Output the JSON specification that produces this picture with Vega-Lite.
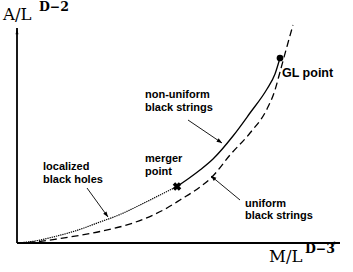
{
  "$schema": "https://vega.github.io/schema/vega-lite/v6.json",
  "width": 353,
  "height": 272,
  "autosize": "none",
  "padding": 0,
  "background": "white",
  "config": {"view": {"stroke": null}},
  "datasets": {
    "curves": [
      {"s": "loc", "x": 0, "y": 0}, {"s": "loc", "x": 18, "y": 2}, {"s": "loc", "x": 36, "y": 6}, {"s": "loc", "x": 58, "y": 12},
      {"s": "loc", "x": 83, "y": 21}, {"s": "loc", "x": 103, "y": 28.5}, {"s": "loc", "x": 123, "y": 38}, {"s": "loc", "x": 143, "y": 48},
      {"s": "loc", "x": 160, "y": 56.5},
      {"s": "nub", "x": 160, "y": 56.5}, {"s": "nub", "x": 173, "y": 65.5}, {"s": "nub", "x": 183, "y": 73}, {"s": "nub", "x": 196, "y": 84},
      {"s": "nub", "x": 216, "y": 107}, {"s": "nub", "x": 233, "y": 130}, {"s": "nub", "x": 250, "y": 154}, {"s": "nub", "x": 258, "y": 169},
      {"s": "nub", "x": 263, "y": 185},
      {"s": "uni", "x": 0, "y": 0}, {"s": "uni", "x": 18, "y": 1}, {"s": "uni", "x": 43, "y": 4.5}, {"s": "uni", "x": 83, "y": 11.5},
      {"s": "uni", "x": 116, "y": 20}, {"s": "uni", "x": 150, "y": 35}, {"s": "uni", "x": 163, "y": 43}, {"s": "uni", "x": 183, "y": 56},
      {"s": "uni", "x": 195, "y": 66}, {"s": "uni", "x": 213, "y": 88}, {"s": "uni", "x": 233, "y": 110}, {"s": "uni", "x": 250, "y": 134},
      {"s": "uni", "x": 258, "y": 153}, {"s": "uni", "x": 263, "y": 171}, {"s": "uni", "x": 269, "y": 193}, {"s": "uni", "x": 276, "y": 218}
    ],
    "axes": [
      {"x": 0, "y": 0, "x2": 323, "y2": 0},
      {"x": 0, "y": 0, "x2": 0, "y2": 215}
    ],
    "pointers": [
      {"x": 171, "y": 123, "x2": 205, "y2": 100},
      {"x": 70, "y": 55, "x2": 91, "y2": 26},
      {"x": 223, "y": 43, "x2": 194, "y2": 67}
    ],
    "markers": [
      {"kind": "GL", "x": 263, "y": 185},
      {"kind": "merger", "x": 160, "y": 56.5}
    ],
    "labels": [
      {"x": 265, "y": 166, "text": "GL point", "size": "big"},
      {"x": 128, "y": 145, "text": "non-uniform\nblack strings", "size": "small"},
      {"x": 128, "y": 81, "text": "merger\npoint", "size": "small"},
      {"x": 26, "y": 73, "text": "localized\nblack holes", "size": "small"},
      {"x": 228, "y": 36.5, "text": "uniform\nblack strings", "size": "small"}
    ],
    "axislabels": [
      {"x": -14, "y": 223, "text": "A/L"},
      {"x": 252, "y": -19, "text": "M/L"}
    ],
    "powers": [
      {"x": 22, "y": 232, "text": "D\u22122"},
      {"x": 288, "y": -10, "text": "D\u22123"}
    ]
  },
  "encoding": {
    "x": {"field": "x", "type": "quantitative", "scale": {"domain": [-17, 336], "nice": false, "zero": false}, "axis": null},
    "y": {"field": "y", "type": "quantitative", "scale": {"domain": [-29, 243], "nice": false, "zero": false}, "axis": null}
  },
  "layer": [
    {
      "data": {"name": "axes"},
      "mark": {"type": "rule", "color": "black", "strokeWidth": 1.8},
      "encoding": {"x2": {"field": "x2"}, "y2": {"field": "y2"}}
    },
    {
      "data": {"name": "axes"},
      "transform": [{"calculate": "atan2(datum.x2 - datum.x, datum.y2 - datum.y) * 180 / PI", "as": "ang"}],
      "mark": {"type": "point", "shape": "M0,0L0.3,1.3L-0.3,1.3Z", "filled": true, "color": "black", "opacity": 1, "size": 90, "strokeWidth": 0},
      "encoding": {
        "x": {"field": "x2", "type": "quantitative"},
        "y": {"field": "y2", "type": "quantitative"},
        "angle": {"field": "ang", "type": "quantitative", "scale": null}
      }
    },
    {
      "data": {"name": "pointers"},
      "mark": {"type": "rule", "color": "black", "strokeWidth": 0.9},
      "encoding": {"x2": {"field": "x2"}, "y2": {"field": "y2"}}
    },
    {
      "data": {"name": "pointers"},
      "transform": [{"calculate": "atan2(datum.x2 - datum.x, datum.y2 - datum.y) * 180 / PI", "as": "ang"}],
      "mark": {"type": "point", "shape": "M0,0L0.45,1.2L-0.45,1.2Z", "filled": true, "color": "black", "opacity": 1, "size": 80, "strokeWidth": 0},
      "encoding": {
        "x": {"field": "x2", "type": "quantitative"},
        "y": {"field": "y2", "type": "quantitative"},
        "angle": {"field": "ang", "type": "quantitative", "scale": null}
      }
    },
    {
      "data": {"name": "curves"},
      "transform": [{"filter": "datum.s === 'loc'"}],
      "mark": {"type": "line", "color": "black", "strokeWidth": 1.2, "strokeDash": [1.3, 0.9], "interpolate": "monotone"}
    },
    {
      "data": {"name": "curves"},
      "transform": [{"filter": "datum.s === 'nub'"}],
      "mark": {"type": "line", "color": "black", "strokeWidth": 1.3, "interpolate": "monotone"}
    },
    {
      "data": {"name": "curves"},
      "transform": [{"filter": "datum.s === 'uni'"}],
      "mark": {"type": "line", "color": "black", "strokeWidth": 1.3, "strokeDash": [7, 4], "interpolate": "monotone"}
    },
    {
      "data": {"name": "markers"},
      "transform": [{"filter": "datum.kind === 'GL'"}],
      "mark": {"type": "point", "shape": "circle", "filled": true, "color": "black", "opacity": 1, "size": 45}
    },
    {
      "data": {"name": "markers"},
      "transform": [{"filter": "datum.kind === 'merger'"}],
      "mark": {"type": "point", "shape": "cross", "angle": 45, "filled": true, "color": "black", "opacity": 1, "size": 75}
    },
    {
      "data": {"name": "labels"},
      "transform": [{"filter": "datum.size === 'small'"}],
      "mark": {"type": "text", "align": "left", "baseline": "alphabetic", "font": "Liberation Sans", "fontWeight": "bold", "fontSize": 11, "lineBreak": "\n", "lineHeight": 12.5, "color": "black"},
      "encoding": {"text": {"field": "text"}}
    },
    {
      "data": {"name": "labels"},
      "transform": [{"filter": "datum.size === 'big'"}],
      "mark": {"type": "text", "align": "left", "baseline": "alphabetic", "font": "Liberation Sans", "fontWeight": "bold", "fontSize": 12.5, "color": "black"},
      "encoding": {"text": {"field": "text"}}
    },
    {
      "data": {"name": "axislabels"},
      "mark": {"type": "text", "align": "left", "baseline": "alphabetic", "font": "DejaVu Serif", "fontSize": 16.5, "color": "black"},
      "encoding": {"text": {"field": "text"}}
    },
    {
      "data": {"name": "powers"},
      "mark": {"type": "text", "align": "left", "baseline": "alphabetic", "font": "DejaVu Serif", "fontWeight": "bold", "fontSize": 12.5, "color": "black"},
      "encoding": {"text": {"field": "text"}}
    }
  ]
}
